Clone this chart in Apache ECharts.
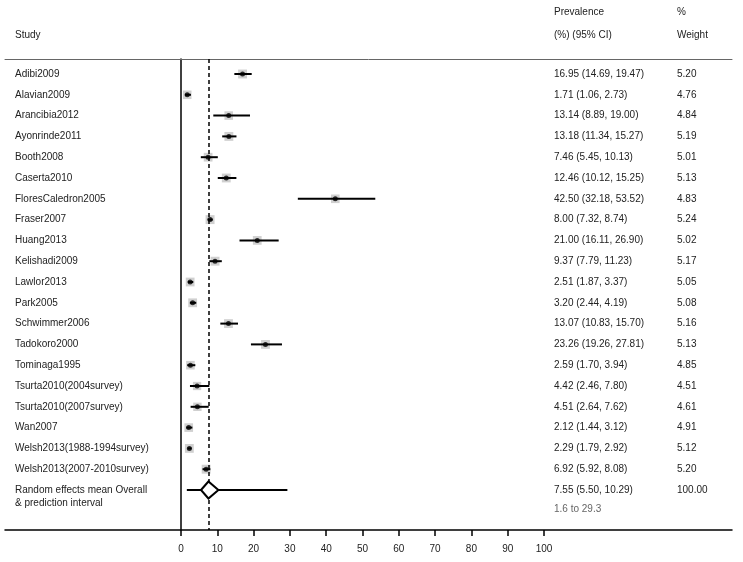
<!DOCTYPE html>
<html><head><meta charset="utf-8">
<script src="https://cdn.jsdelivr.net/npm/echarts@6/dist/echarts.min.js"></script>
<style>html,body{margin:0;padding:0;background:#fff}#c{width:743px;height:562px}</style>
</head><body><div id="c"></div>
<script>
const studies = ['Adibi2009','Alavian2009','Arancibia2012','Ayonrinde2011','Booth2008','Caserta2010','FloresCaledron2005','Fraser2007','Huang2013','Kelishadi2009','Lawlor2013','Park2005','Schwimmer2006','Tadokoro2000','Tominaga1995','Tsurta2010(2004survey)','Tsurta2010(2007survey)','Wan2007','Welsh2013(1988-1994survey)','Welsh2013(2007-2010survey)'];
const prevalence = [16.95,1.71,13.14,13.18,7.46,12.46,42.50,8.00,21.00,9.37,2.51,3.20,13.07,23.26,2.59,4.42,4.51,2.12,2.29,6.92];
const lower = [14.69,1.06,8.89,11.34,5.45,10.12,32.18,7.32,16.11,7.79,1.87,2.44,10.83,19.26,1.70,2.46,2.64,1.44,1.79,5.92];
const upper = [19.47,2.73,19.00,15.27,10.13,15.25,53.52,8.74,26.90,11.23,3.37,4.19,15.70,27.81,3.94,7.80,7.62,3.12,2.92,8.08];
const weights = [5.20,4.76,4.84,5.19,5.01,5.13,4.83,5.24,5.02,5.17,5.05,5.08,5.16,5.13,4.85,4.51,4.61,4.91,5.12,5.20];
const overallLabel = ['Random effects mean Overall','& prediction interval'];
const overallEst = 7.55, overallLo = 5.50, overallHi = 10.29, overallWeight = 100.00;
const predLo = 1.6, predHi = 29.3;
const xTicks = [0,10,20,30,40,50,60,70,80,90,100];
const headers = {study:'Study', prev1:'Prevalence', prev2:'(%) (95% CI)', w1:'%', w2:'Weight'};

const FONT = '"Liberation Sans", Arial, sans-serif';
const TXT = '#222';
const overallRow = studies.length;
const COL_LABEL = 15, COL_VAL = 554, COL_W = 677;

function fmtCI(e, l, h){ return e.toFixed(2)+' ('+l.toFixed(2)+', '+h.toFixed(2)+')'; }

const rows = studies.map((s,i)=>[prevalence[i], i, weights[i], lower[i], upper[i]]);
const textRows = studies.map((s,i)=>({name:s, val:fmtCI(prevalence[i],lower[i],upper[i]), w:weights[i].toFixed(2), i:i}));
textRows.push({name:overallLabel[0], name2:overallLabel[1], val:fmtCI(overallEst,overallLo,overallHi), w:overallWeight.toFixed(2), pred:predLo+' to '+predHi, i:overallRow});

function txt(x,y,s,color){
  return {type:'text', x:x, y:y, style:{text:s, fill:color||TXT, font:'10px '+FONT, textVerticalAlign:'middle', textAlign:'left'}};
}

const chart = echarts.init(document.getElementById('c'), null, {renderer:'canvas'});
chart.setOption({
  animation:false,
  backgroundColor:'#fff',
  grid:{left:5, right:11, top:59, bottom:32},
  xAxis:[{
    type:'value', position:'bottom', min:-48.5, max:151.8,
    axisLine:{show:true, onZero:false, lineStyle:{color:'#000', width:1.5}},
    axisTick:{show:true, customValues:xTicks, length:6, lineStyle:{color:'#000', width:1.5}},
    axisLabel:{show:true, customValues:xTicks, margin:14, fontSize:10, fontFamily:FONT, color:TXT},
    splitLine:{show:false}
  },{
    type:'value', position:'top', min:-48.5, max:151.8,
    axisLine:{show:true, onZero:false, lineStyle:{color:'#666', width:1}},
    axisTick:{show:false}, axisLabel:{show:false}, splitLine:{show:false}
  }],
  yAxis:{
    type:'value', inverse:true, min:-0.721, max:21.923,
    axisLine:{show:true, onZero:true, onZeroAxisIndex:0, lineStyle:{color:'#000', width:1.5}},
    axisTick:{show:false}, axisLabel:{show:false}, splitLine:{show:false}
  },
  graphic:[
    {type:'text', left:COL_LABEL, top:30, style:{text:headers.study, fill:TXT, font:'10px '+FONT}},
    {type:'text', left:COL_VAL, top:7, style:{text:headers.prev1, fill:TXT, font:'10px '+FONT}},
    {type:'text', left:COL_VAL, top:30, style:{text:headers.prev2, fill:TXT, font:'10px '+FONT}},
    {type:'text', left:COL_W, top:7, style:{text:headers.w1, fill:TXT, font:'10px '+FONT}},
    {type:'text', left:COL_W, top:30, style:{text:headers.w2, fill:TXT, font:'10px '+FONT}}
  ],
  series:[
    { // weight squares
      type:'scatter', symbol:'rect', z:2,
      symbolSize:(v)=>Math.sqrt(v[2])*3.9,
      itemStyle:{color:'#c4c4c4'},
      data:rows, silent:true
    },
    { // CI lines
      type:'custom', z:3, silent:true,
      data:rows,
      encode:{x:[3,4], y:1},
      renderItem:(params, api)=>{
        const a = api.coord([api.value(3), api.value(1)]);
        const b = api.coord([api.value(4), api.value(1)]);
        return {type:'line', shape:{x1:a[0], y1:a[1], x2:b[0], y2:b[1]}, style:{stroke:'#000', lineWidth:2}};
      }
    },
    { // point estimates
      type:'scatter', symbol:'circle', symbolSize:5, z:4, silent:true,
      itemStyle:{color:'#000'},
      data:rows,
      markLine:{
        silent:true, symbol:['none','none'], label:{show:false},
        lineStyle:{color:'#000', width:1.5, type:[4,3]},
        data:[{xAxis:overallEst}]
      }
    },
    { // prediction interval + diamond
      type:'custom', z:5, silent:true,
      data:[[overallEst, overallRow, overallLo, overallHi, predLo, predHi]],
      encode:{x:[2,3,4,5], y:1},
      renderItem:(params, api)=>{
        const y = api.value(1);
        const c = api.coord([api.value(0), y]);
        const l = api.coord([api.value(2), y]);
        const h = api.coord([api.value(3), y]);
        const pl = api.coord([api.value(4), y]);
        const ph = api.coord([api.value(5), y]);
        const hh = 8.5;
        return {type:'group', children:[
          {type:'line', shape:{x1:pl[0], y1:pl[1], x2:ph[0], y2:ph[1]}, style:{stroke:'#000', lineWidth:2}},
          {type:'polygon', shape:{points:[[l[0],c[1]],[c[0],c[1]-hh],[h[0],c[1]],[c[0],c[1]+hh]]}, style:{fill:'#fff', stroke:'#000', lineWidth:2}}
        ]};
      }
    },
    { // table text
      type:'custom', z:6, silent:true, clip:false,
      data:textRows.map(r=>[0, r.i]),
      encode:{x:0, y:1},
      renderItem:(params, api)=>{
        const r = textRows[params.dataIndex];
        const y = api.coord([0, api.value(1)])[1];
        const ch = [txt(COL_LABEL, y, r.name), txt(COL_VAL, y, r.val), txt(COL_W, y, r.w)];
        if (r.name2) ch.push(txt(COL_LABEL, y+13, r.name2));
        if (r.pred) ch.push(txt(COL_VAL, y+19, r.pred, '#666'));
        return {type:'group', children:ch};
      }
    }
  ]
});
</script></body></html>
